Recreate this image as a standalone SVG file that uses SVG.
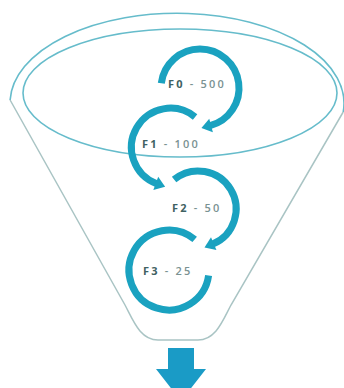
<svg xmlns="http://www.w3.org/2000/svg" width="344" height="388" viewBox="0 0 344 388">
  <defs>
    <style>
      .rim { fill: none; stroke: #66bccb; stroke-width: 1.6; }
      .side { fill: none; stroke: #a9c4c4; stroke-width: 1.5; }
      .loop { fill: none; stroke: #1aa2c0; stroke-width: 7; stroke-linecap: butt; }
      .lbl { font-family: "Open Sans", "Liberation Sans", sans-serif; font-size: 11px; letter-spacing: 2.2px; }
      .k { font-weight: 700; fill: #3f6263; }
      .v { font-weight: 600; fill: #7a9292; }
    </style>
    <marker id="ah" markerUnits="userSpaceOnUse" markerWidth="16" markerHeight="16" viewBox="-2 -8 14 16" refX="1" refY="0" orient="auto">
      <path d="M0,-7 L10,0 L0,7 z" fill="#1aa2c0"/>
    </marker>
  </defs>
  <rect width="344" height="388" fill="#ffffff"/>

  <g id="funnel">
    <path class="rim" d="M10.1,100 A167,90 0 1 1 343.2,112"/>
    <path class="side" d="M10.1,100 L125,305 C133,320 140,340 158,340 L198,340 C216,340 223,320 231,305 L343.2,112"/>
    <ellipse class="rim" cx="180" cy="93" rx="157" ry="64"/>
  </g>

  <g id="connectors">
    <path id="loop-f0" class="loop" d="M161.3,83.2 A39,39 0 1 1 210.1,125.7" marker-end="url(#ah)"/>
    <path id="loop-f1" class="loop" d="M195.1,117 A39,39 0 1 0 156.7,183.7" marker-end="url(#ah)"/>
    <path id="loop-f2" class="loop" d="M174.1,179.5 A38,38 0 1 1 212.8,244" marker-end="url(#ah)"/>
    <path id="loop-f3" class="loop" d="M194.7,239.4 A40,40 0 1 0 208.6,275.6"/>
  </g>

  <g id="stage-f0">
    <text class="lbl" x="168" y="88"><tspan class="k">F0</tspan><tspan class="v"> - 500</tspan></text>
  </g>
  <g id="stage-f1">
    <text class="lbl" x="142" y="148"><tspan class="k">F1</tspan><tspan class="v"> - 100</tspan></text>
  </g>
  <g id="stage-f2">
    <text class="lbl" x="172" y="212"><tspan class="k">F2</tspan><tspan class="v"> - 50</tspan></text>
  </g>
  <g id="stage-f3">
    <text class="lbl" x="143" y="275"><tspan class="k">F3</tspan><tspan class="v"> - 25</tspan></text>
  </g>

  <g id="output-arrow">
    <path d="M168,348 L194,348 L194,369 L206,369 L181,401 L156,369 L168,369 z" fill="#1a9bc6"/>
  </g>
</svg>
